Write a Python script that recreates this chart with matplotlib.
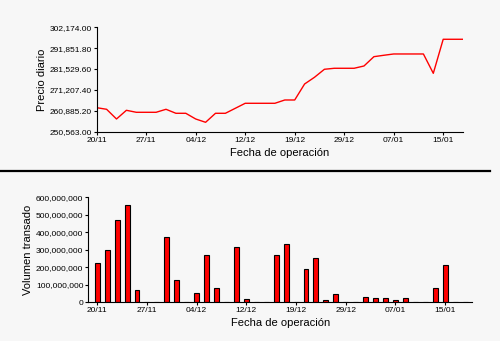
import matplotlib.pyplot as plt
from matplotlib.lines import Line2D
import numpy as np

plt.rcParams['font.family'] = ['Liberation Sans', 'DejaVu Sans']

# Datos (por día hábil, índice 0 = 20/11)
precio = [262429, 261637, 256842, 261143, 260154, 260154, 260154, 261637, 259660, 259660,
          256842, 255210, 259660, 259660, 262132, 264604, 264604, 264604, 264604, 266235,
          266235, 274146, 277460, 281414, 281909, 281909, 281909, 283045, 287644, 288336,
          288979, 288979, 288979, 288979, 279418, 296246, 296246, 296246]
volumen = [223, 297, 469, 556, 69, 0, 0, 371, 126, 0,
           51, 269, 80, 0, 314, 17, 0, 0, 269, 331,
           0, 189, 251, 11, 46, 0, 0, 29, 23, 23,
           11, 23, 0, 0, 80, 211, 0, 0]  # millones
tick_idx = [0, 5, 10, 15, 20, 25, 30, 35]
tick_lab = ['20/11', '27/11', '04/12', '12/12', '19/12', '29/12', '07/01', '15/01']
precio_min, precio_max = 250563.0, 302174.0

dias = np.arange(len(precio))
bg = '#f7f7f7'

fig = plt.figure(figsize=(5, 3.41), dpi=100, facecolor=bg)

# Gráfico de precio
ax1 = fig.add_axes([0.1934, 0.6138, 0.7326, 0.3062], facecolor=bg)
ax1.plot(dias, precio, color='red', lw=1)
ax1.set_xlim(0, 37)
ax1.set_ylim(precio_min, precio_max)
ax1.set_yticks(np.linspace(precio_min, precio_max, 6))
ax1.set_yticklabels(['{:,.2f}'.format(v) for v in np.linspace(precio_min, precio_max, 6)])
ax1.set_ylabel('Precio diario', fontsize=8, labelpad=2)
ax1.set_xlabel('Fecha de operación', fontsize=8, labelpad=3)

# Gráfico de volumen
ax2 = fig.add_axes([0.1766, 0.1135, 0.7674, 0.3079], facecolor=bg)
ax2.bar(dias, np.array(volumen) * 1e6, width=0.5, color='red', edgecolor='black', linewidth=0.8)
ax2.set_xlim(-0.9, 37.7)
ax2.set_ylim(0, 600e6)
ax2.set_yticks(np.arange(0, 600e6 + 1, 100e6))
ax2.set_yticklabels(['{:,.0f}'.format(v) for v in np.arange(0, 600e6 + 1, 100e6)])
ax2.set_ylabel('Volumen transado', fontsize=8, labelpad=2)
ax2.set_xlabel('Fecha de operación', fontsize=8, labelpad=3)

for ax in (ax1, ax2):
    ax.set_xticks(tick_idx)
    ax.set_xticklabels(tick_lab)
    ax.tick_params(labelsize=6, length=2.5, width=0.8, pad=1)
    for s in ('top', 'right'):
        ax.spines[s].set_visible(False)
    for s in ('left', 'bottom'):
        ax.spines[s].set_linewidth(0.8)

# Línea separadora
fig.add_artist(Line2D([0, 0.98], [1 - 171 / 341] * 2, color='black', lw=1.6))

fig.savefig('out.png', dpi=100, facecolor=bg)
